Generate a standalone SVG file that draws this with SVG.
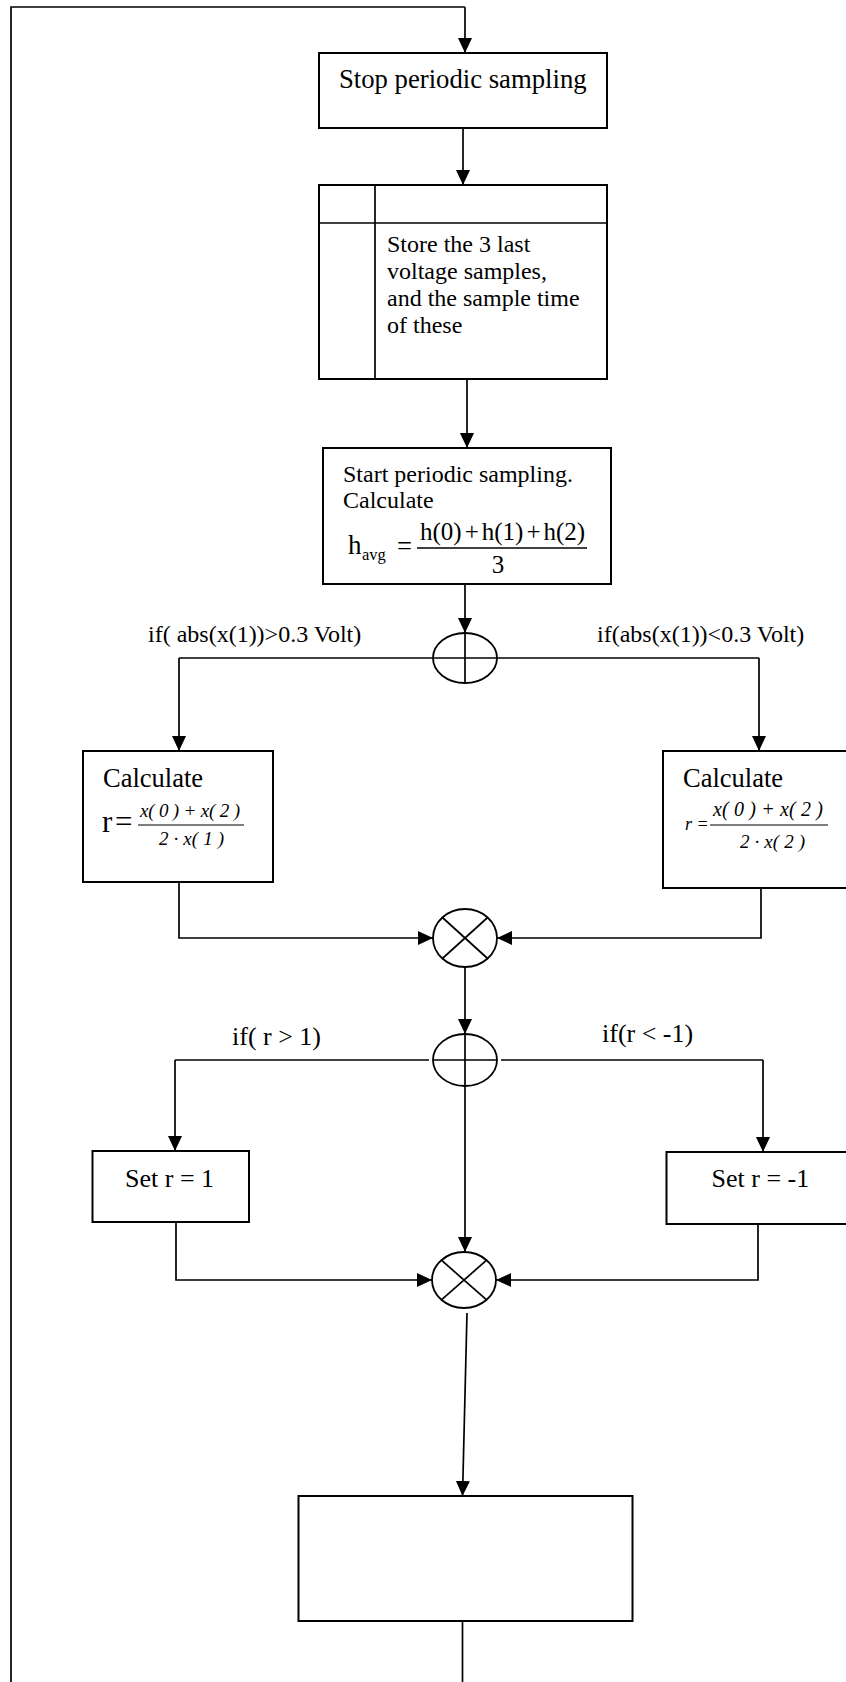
<svg xmlns="http://www.w3.org/2000/svg" width="846" height="1682" viewBox="0 0 846 1682">
  <style>
    .box { fill: #fff; stroke: #000; stroke-width: 2; }
    .ln { fill: none; stroke: #000; stroke-width: 1.7; }
    .arr { fill: none; stroke: #000; stroke-width: 1.7; marker-end: url(#head); }
    .junc { fill: #fff; stroke: #000; stroke-width: 1.8; }
    .t { font-family: "Liberation Serif", "Times New Roman", serif; fill: #000; }
    .it { font-style: italic; }
  </style>
  <defs>
    <marker id="head" markerUnits="userSpaceOnUse" markerWidth="16" markerHeight="14" refX="15" refY="7" orient="auto">
      <path d="M0,0 L15,7 L0,14 z" fill="#000"/>
    </marker>
  </defs>
  <rect width="846" height="1682" fill="#fff"/>

  <!-- connectors -->
  <g id="connectors">
    <!-- feedback loop along the left edge -->
    <path class="ln" d="M11,1682 L11,7 L465,7"/>
    <path class="arr" d="M465,7 L465,53"/>
    <path class="arr" d="M463,128 L463,185"/>
    <path class="arr" d="M467,379 L467,448"/>
    <path class="arr" d="M465,584 L465,633"/>
    <!-- first branch split -->
    <path class="ln" d="M179,658 L759,658"/>
    <path class="arr" d="M179,658 L179,751"/>
    <path class="arr" d="M759,658 L759,751"/>
    <!-- merge of the two calculations -->
    <path class="arr" d="M179,882 L179,938 L433,938"/>
    <path class="arr" d="M761,888 L761,938 L497,938"/>
    <path class="arr" d="M465,967 L465,1034"/>
    <!-- second branch split -->
    <path class="ln" d="M175,1060 L429,1060"/>
    <path class="ln" d="M501,1060 L763,1060"/>
    <path class="arr" d="M175,1060 L175,1151"/>
    <path class="arr" d="M763,1060 L763,1152"/>
    <path class="arr" d="M465,1034 L465,1252"/>
    <!-- merge of the limits -->
    <path class="arr" d="M176,1222 L176,1280 L432,1280"/>
    <path class="arr" d="M758,1221 L758,1280 L496,1280"/>
    <path class="arr" d="M467,1313 L462.5,1496"/>
    <path class="ln" d="M462.5,1621 L462.5,1682"/>
  </g>

  <g id="stop">
    <rect class="box" x="319" y="53" width="288" height="75"/>
    <text class="t" x="339" y="88" font-size="26.7">Stop periodic sampling</text>
  </g>

  <g id="store">
    <rect class="box" x="319" y="185" width="288" height="194"/>
    <line class="ln" x1="375" y1="185" x2="375" y2="379" stroke-width="2"/>
    <line class="ln" x1="319" y1="223" x2="607" y2="223" stroke-width="2"/>
    <text class="t" font-size="24">
      <tspan x="387" y="252">Store the 3 last</tspan>
      <tspan x="387" y="279">voltage samples,</tspan>
      <tspan x="387" y="306">and the sample time</tspan>
      <tspan x="387" y="333">of these</tspan>
    </text>
  </g>

  <g id="start">
    <rect class="box" x="323" y="448" width="288" height="136"/>
    <text class="t" font-size="24">
      <tspan x="343" y="482">Start periodic sampling.</tspan>
      <tspan x="343" y="508">Calculate</tspan>
    </text>
    <text class="t" x="348" y="554" font-size="27">h</text>
    <text class="t" x="362" y="560" font-size="16.5">avg</text>
    <text class="t" x="397" y="555" font-size="26.6">=</text>
    <text class="t" x="420" y="540" font-size="25">h(0)<tspan dx="3">+</tspan><tspan dx="3">h(1)</tspan><tspan dx="3">+</tspan><tspan dx="3">h(2)</tspan></text>
    <line x1="417" y1="548" x2="587" y2="548" stroke="#000" stroke-width="1.3"/>
    <text class="t" x="498" y="573" font-size="25" text-anchor="middle">3</text>
  </g>

  <g id="split1">
    <ellipse class="junc" cx="465" cy="658" rx="32" ry="25"/>
    <line class="ln" x1="433" y1="658" x2="497" y2="658"/>
    <line class="ln" x1="465" y1="633" x2="465" y2="683"/>
    <text class="t" x="148" y="642" font-size="24">if( abs(x(1))&gt;0.3 Volt)</text>
    <text class="t" x="597" y="642" font-size="24">if(abs(x(1))&lt;0.3 Volt)</text>
  </g>

  <g id="calc-left">
    <rect class="box" x="83" y="751" width="190" height="131"/>
    <text class="t" x="103" y="787" font-size="26.5">Calculate</text>
    <text class="t" x="102" y="832" font-size="31">r<tspan x="115">=</tspan></text>
    <text class="t it" x="140" y="816.5" font-size="19" textLength="100" lengthAdjust="spacing">x( 0 ) + x( 2 )</text>
    <line x1="138" y1="825" x2="244" y2="825" stroke="#000" stroke-width="1.2"/>
    <text class="t it" x="159" y="845" font-size="19" textLength="65" lengthAdjust="spacing">2 · x( 1 )</text>
  </g>

  <g id="calc-right">
    <rect class="box" x="663" y="751" width="200" height="137"/>
    <text class="t" x="683" y="787" font-size="26.5">Calculate</text>
    <text class="t it" x="685" y="830" font-size="18">r =</text>
    <text class="t it" x="713" y="815.5" font-size="20" textLength="110" lengthAdjust="spacing">x( 0 ) + x( 2 )</text>
    <line x1="710" y1="825" x2="828" y2="825" stroke="#000" stroke-width="1.2"/>
    <text class="t it" x="740" y="847.5" font-size="19" textLength="65" lengthAdjust="spacing">2 · x( 2 )</text>
  </g>

  <g id="merge1">
    <ellipse class="junc" cx="465" cy="938" rx="32" ry="29"/>
    <line class="ln" x1="442.4" y1="917.5" x2="487.6" y2="958.5"/>
    <line class="ln" x1="442.4" y1="958.5" x2="487.6" y2="917.5"/>
  </g>

  <g id="split2">
    <ellipse class="junc" cx="465" cy="1060" rx="32" ry="26"/>
    <line class="ln" x1="433" y1="1060" x2="497" y2="1060"/>
    <line class="ln" x1="465" y1="1034" x2="465" y2="1086"/>
    <text class="t" x="232" y="1045" font-size="26">if( r &gt; 1)</text>
    <text class="t" x="602" y="1042" font-size="26">if(r &lt; -1)</text>
  </g>

  <g id="set-pos">
    <rect class="box" x="92.5" y="1151" width="156.5" height="71"/>
    <text class="t" x="125" y="1187" font-size="26">Set r = 1</text>
  </g>

  <g id="set-neg">
    <rect class="box" x="666.5" y="1152" width="200" height="72"/>
    <text class="t" x="711.5" y="1187" font-size="26">Set r = -1</text>
  </g>

  <g id="merge2">
    <ellipse class="junc" cx="464" cy="1280" rx="32" ry="28"/>
    <line class="ln" x1="441.4" y1="1260.2" x2="486.6" y2="1299.8"/>
    <line class="ln" x1="441.4" y1="1299.8" x2="486.6" y2="1260.2"/>
  </g>

  <g id="final">
    <rect class="box" x="298.5" y="1496" width="334" height="125"/>
  </g>
</svg>
